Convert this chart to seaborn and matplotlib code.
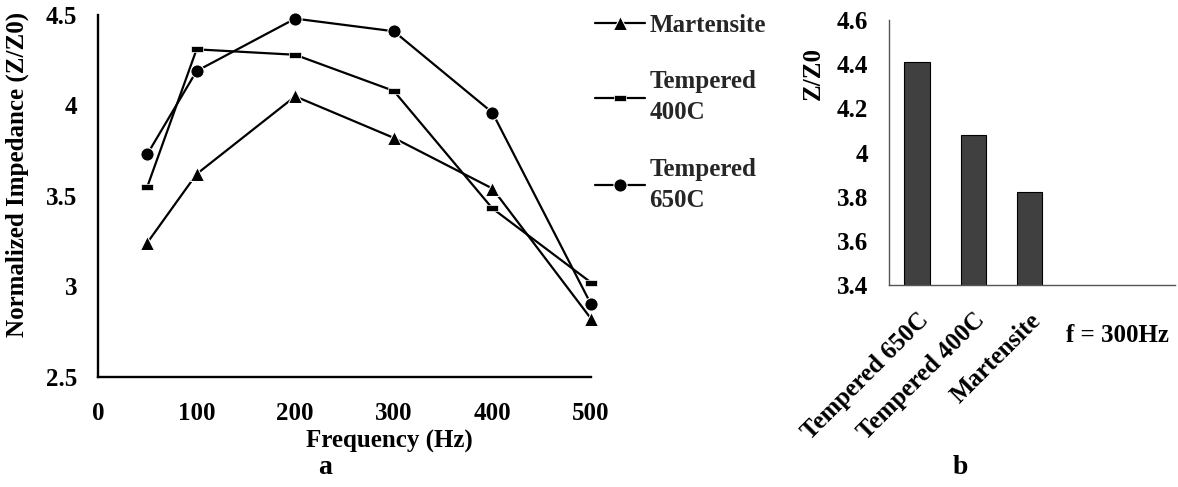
import matplotlib
matplotlib.use("Agg")
import matplotlib.pyplot as plt
import seaborn as sns

# ---- data ----
freq = [50, 100, 200, 300, 400, 500]
martensite = [3.24, 3.62, 4.05, 3.82, 3.54, 2.82]
tempered_400 = [3.55, 4.31, 4.28, 4.08, 3.43, 3.02]
tempered_650 = [3.73, 4.19, 4.48, 4.41, 3.96, 2.90]
series_names = ["Martensite", "Tempered\n400C", "Tempered\n650C"]

bar_labels = ["Tempered 650C", "Tempered 400C", "Martensite"]
bar_values = [4.41, 4.08, 3.82]

x_ticks_a = [0, 100, 200, 300, 400, 500]
y_ticks_a = [2.5, 3, 3.5, 4, 4.5]
y_tick_labels_a = ["2.5", "3", "3.5", "4", "4.5"]
y_ticks_b = [3.4, 3.6, 3.8, 4.0, 4.2, 4.4, 4.6]
y_tick_labels_b = ["3.4", "3.6", "3.8", "4", "4.2", "4.4", "4.6"]

sns.set_theme(style="white")
plt.rcParams["font.family"] = ["Liberation Serif", "DejaVu Serif"]
plt.rcParams["font.weight"] = "bold"
FS = 18

fig = plt.figure(figsize=(11.78, 4.87), dpi=100)
W, H = 1178, 487

# ---- panel a ----
axa = fig.add_axes([98 / W, 1 - 376.5 / H, (591 - 98) / W, (376.5 - 15) / H])
rect = [(-1, -0.55), (1, -0.55), (1, 0.55), (-1, 0.55), (-1, -0.55)]
sns.lineplot(x=freq, y=martensite, ax=axa, color="black", marker="^",
             markersize=10, linewidth=1.6, label=series_names[0], clip_on=False)
sns.lineplot(x=freq, y=tempered_400, ax=axa, color="black", marker=rect,
             markersize=8, markeredgewidth=0.5, linewidth=1.6,
             label=series_names[1], clip_on=False)
sns.lineplot(x=freq, y=tempered_650, ax=axa, color="black", marker="o",
             markersize=9.5, linewidth=1.6, label=series_names[2], clip_on=False)
handles, labels = axa.get_legend_handles_labels()
axa.get_legend().remove()

axa.set_xlim(0, 500)
axa.set_ylim(2.5, 4.5)
axa.set_xticks(x_ticks_a)
axa.set_xticklabels([str(t) for t in x_ticks_a])
axa.set_yticks(y_ticks_a)
axa.set_yticklabels(y_tick_labels_a)
for s in ["top", "right"]:
    axa.spines[s].set_visible(False)
for s in ["left", "bottom"]:
    axa.spines[s].set_color("black")
    axa.spines[s].set_linewidth(1.7)
axa.tick_params(axis="both", direction="out", length=6, width=1.6, color="black",
                labelsize=FS, labelcolor="black")
axa.tick_params(axis="x", pad=12)
axa.tick_params(axis="y", pad=9)
axa.set_xlabel("Frequency (Hz)", fontsize=FS, fontweight="bold", color="black")
axa.set_ylabel("Normalized Impedance (Z/Z0)", fontsize=FS, fontweight="bold", color="black")
axa.xaxis.set_label_coords(0.592, -0.148)
axa.yaxis.set_label_coords(-0.14, 0.56)
for lab in axa.get_xticklabels() + axa.get_yticklabels():
    lab.set_fontweight("bold")

leg = fig.legend(handles, labels, loc="upper left", bbox_to_anchor=(582 / W, 1 - 1 / H),
                 frameon=False, handlelength=2.0, handletextpad=0.2,
                 labelspacing=1.35, borderpad=0, prop={"size": FS, "weight": "bold"})
for t in leg.get_texts():
    t.set_linespacing(1.45)

fig.text(325 / W, 1 - 468 / H, "a", fontsize=FS + 2, fontweight="bold",
         ha="center", va="center", color="black")

# ---- panel b ----
axb = fig.add_axes([889 / W, 1 - 285 / H, (1175 - 889) / W, (285 - 20) / H])
sns.barplot(x=bar_labels, y=bar_values, ax=axb, color="#404040", saturation=1,
            edgecolor="black", linewidth=0.8, width=0.45)
axb.set_xlim(-0.5, 4.6)
axb.set_ylim(3.4, 4.6)
axb.set_yticks(y_ticks_b)
axb.set_yticklabels(y_tick_labels_b)
for s in ["top", "right"]:
    axb.spines[s].set_visible(False)
for s in ["left", "bottom"]:
    axb.spines[s].set_color("#555555")
    axb.spines[s].set_linewidth(1.0)
axb.tick_params(axis="y", direction="out", length=8, width=1.0, color="#555555",
                labelsize=FS, labelcolor="black", pad=7)
axb.tick_params(axis="x", length=0, labelsize=FS, labelcolor="black", pad=17)
for lab in axb.get_xticklabels():
    lab.set_rotation(45)
    lab.set_ha("right")
    lab.set_va("top")
    lab.set_rotation_mode("anchor")
    lab.set_fontweight("bold")
for lab in axb.get_yticklabels():
    lab.set_fontweight("bold")
axb.set_xlabel("")
axb.set_ylabel("Z/Z0", fontsize=FS, fontweight="bold", color="black")
axb.yaxis.set_label_coords(-0.225, 0.8)
axb.text(3.57, -0.19, "f = 300Hz", transform=axb.get_xaxis_transform(),
         fontsize=FS, fontweight="bold", ha="center", va="center", color="black")

fig.text(960 / W, 1 - 468 / H, "b", fontsize=FS + 2, fontweight="bold",
         ha="center", va="center", color="black")

fig.savefig("out.png", dpi=100, facecolor="white")
